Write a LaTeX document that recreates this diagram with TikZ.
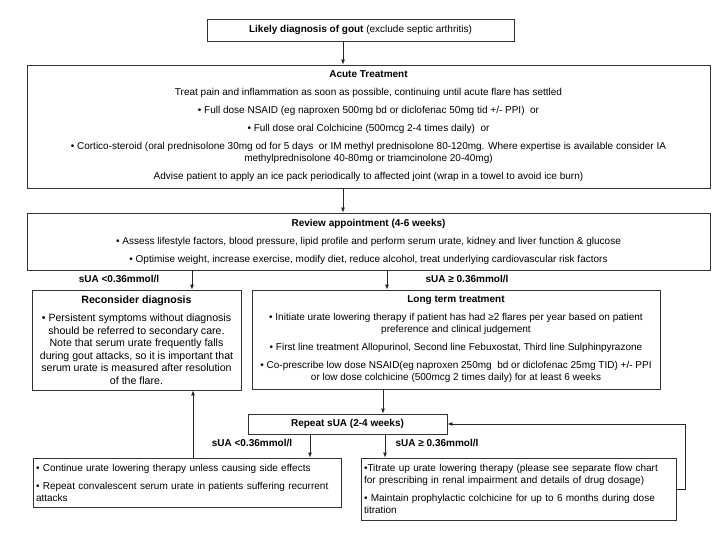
\documentclass[tikz,border=0pt]{standalone}
\usepackage{fontspec}
\setmainfont{Liberation Sans}
\usetikzlibrary{arrows.meta,positioning}

\newcommand{\flowfont}{\fontsize{10}{12}\selectfont}

\tikzset{
  box/.style={draw=black!80, line width=0.8pt, align=center, inner sep=3pt, font=\flowfont},
  leftbox/.style={box, align=left},
  cond/.style={font=\flowfont\bfseries, inner sep=1pt},
  arr/.style={draw=black!85, line width=0.8pt, -{Latex[length=5pt,width=4pt]}}
}

\begin{document}
\begin{tikzpicture}[x=1pt,y=-1pt]
\useasboundingbox (0,0) rectangle (720,540);

% boxes
\node[box, minimum width=307pt, minimum height=22pt] (gout) at (360.5,30)
  {\textbf{Likely diagnosis of gout} (exclude septic arthritis)};

\node[box, minimum width=683pt, minimum height=123pt] (acute) at (368.5,126.5)
  {\textbf{Acute Treatment}\\[6pt]
   Treat pain and inflammation as soon as possible, continuing until acute flare has settled\\[6pt]
   • Full dose NSAID (eg naproxen 500mg bd or diclofenac 50mg tid +/- PPI)\ \ or\\[6pt]
   • Full dose oral Colchicine (500mcg 2-4 times daily)\ \ or\\[6pt]
   • Cortico-steroid (oral prednisolone 30mg od for 5 days\ \ or IM methyl prednisolone 80-120mg. Where expertise is available consider IA\\
   methylprednisolone 40-80mg or triamcinolone 20-40mg)\\[6pt]
   Advise patient to apply an ice pack periodically to affected joint (wrap in a towel to avoid ice burn)};

\node[box, minimum width=683pt, minimum height=57pt] (review) at (368.5,241.5)
  {\textbf{Review appointment (4-6 weeks)}\\[6pt]
   • Assess lifestyle factors, blood pressure, lipid profile and perform serum urate, kidney and liver function \& glucose\\[6pt]
   • Optimise weight, increase exercise, modify diet, reduce alcohol, treat underlying cardiovascular risk factors};

\node[box, minimum width=209pt, minimum height=100pt, font=\fontsize{10.6}{12.5}\selectfont] (recon) at (136.5,340)
  {\textbf{Reconsider diagnosis}\\[6pt]
   • Persistent symptoms without diagnosis\\
   should be referred to secondary care.\\
   Note that serum urate frequently falls\\
   during gout attacks, so it is important that\\
   serum urate is measured after resolution\\
   of the flare.};

\node[box, minimum width=408pt, minimum height=99pt] (longterm) at (456,339.5)
  {\textbf{Long term treatment}\\[6pt]
   • Initiate urate lowering therapy if patient has had ≥2 flares per year based on patient\\
   preference and clinical judgement\\[6pt]
   • First line treatment Allopurinol, Second line Febuxostat, Third line Sulphinpyrazone\\[6pt]
   • Co-prescribe low dose NSAID(eg naproxen 250mg\ \ bd or diclofenac 25mg TID) +/- PPI\\
   or low dose colchicine (500mcg 2 times daily) for at least 6 weeks};

\node[box, minimum width=199pt, minimum height=20pt] (repeat) at (347.5,424)
  {\textbf{Repeat sUA (2-4 weeks)}};

\node[leftbox, text width=302pt, minimum height=49pt] (contin) at (187,482.5)
  {• Continue urate lowering therapy unless causing side effects\\[6pt]
   • Repeat convalescent serum urate in patients suffering recurrent\\
   attacks};

\node[leftbox, text width=309pt, minimum height=62pt] (titrate) at (518.5,489)
  {•Titrate up urate lowering therapy (please see separate flow chart\\
   for prescribing in renal impairment and details of drug dosage)\\[6pt]
   • Maintain prophylactic colchicine for up to 6 months during dose\\
   titration};

% conditions
\node[cond] (lowA) at (119,279) {sUA <0.36mmol/l};
\node[cond] (highA) at (467,279) {sUA ≥ 0.36mmol/l};
\node[cond] (lowB) at (252,443) {sUA <0.36mmol/l};
\node[cond] (highB) at (437,443) {sUA ≥ 0.36mmol/l};

% columns for the arrows
\coordinate (mid) at (343,0);
\coordinate (colA) at (192,0);
\coordinate (colB) at (387,0);
\coordinate (colC) at (383,0);
\coordinate (colD) at (310,0);
\coordinate (colE) at (385,0);
\coordinate (colF) at (193,0);

% arrows
\draw[arr] (gout.south -| mid) -- (acute.north -| mid);
\draw[arr] (acute.south -| mid) -- (review.north -| mid);
\draw[arr] (review.south -| colA) -- (recon.north -| colA);
\draw[arr] (review.south -| colB) -- (longterm.north -| colB);
\draw[arr] (longterm.south -| colC) -- (repeat.north -| colC);
\draw[arr] (repeat.south -| colD) -- (contin.north -| colD);
\draw[arr] (repeat.south -| colE) -- (titrate.north -| colE);
\draw[arr] (contin.north -| colF) -- (recon.south -| colF);
\draw[arr] (titrate.east) -- ++(9,0) |- (repeat.east);
\end{tikzpicture}
\end{document}
